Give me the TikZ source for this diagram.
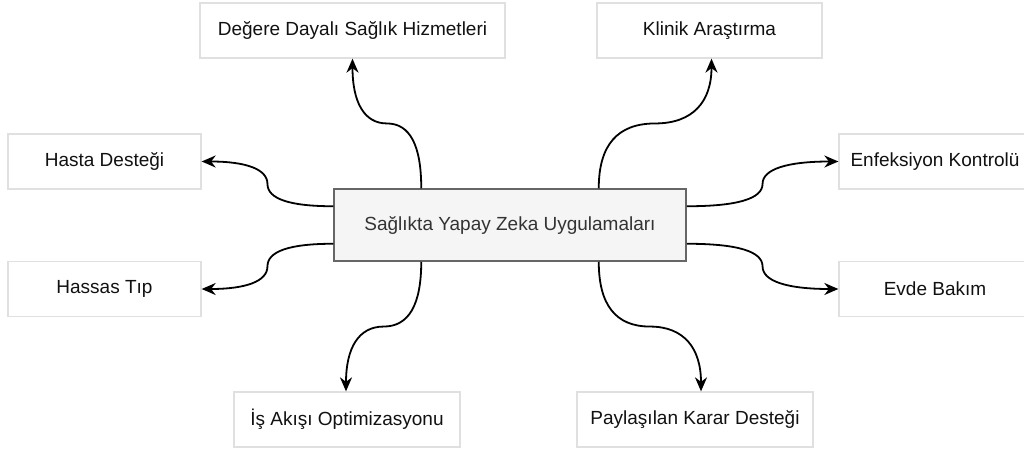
\documentclass[tikz,border=0pt]{standalone}
\usepackage{fontspec}
\setmainfont{Liberation Sans}
\usetikzlibrary{arrows.meta,calc}
\definecolor{outerborder}{HTML}{E0E0E0}
\definecolor{centerfill}{HTML}{F5F5F5}
\definecolor{centerborder}{HTML}{666666}
\definecolor{centertext}{HTML}{333333}
\definecolor{outertext}{HTML}{111111}
% S-shaped connector made of two quadratic pieces (start, waypoint1, waypoint2, end)
\newcommand\sconn[4]{%
  \coordinate (mm) at ($(#2)!0.5!(#3)$);
  \draw[link] (#1) .. controls ($(#1)!0.6667!(#2)$) and ($(mm)!0.6667!(#2)$) .. (mm)
    .. controls ($(mm)!0.6667!(#3)$) and ($(#4)!0.6667!(#3)$) .. (#4);}
\begin{document}
\begin{tikzpicture}[x=1pt,y=-1pt,
  leafbox/.style={draw=outerborder,line width=1.3pt,fill=white,minimum height=55pt,inner sep=0pt,
    font=\fontsize{19}{23}\selectfont,text=outertext},
  hubbox/.style={draw=centerborder,line width=1.5pt,fill=centerfill,minimum width=352pt,minimum height=72pt,
    inner sep=0pt,font=\fontsize{19}{23}\selectfont,text=centertext},
  link/.style={draw=black,line width=1.8pt,-{Stealth[length=14pt,width=12pt,inset=4.5pt]}}]
\useasboundingbox (0,0) rectangle (1024,450);
\node[hubbox] (c) at (510,225) {Sağlıkta Yapay Zeka Uygulamaları};
\node[leafbox,minimum width=305pt] (deg) at (352.5,30.5) {Değere Dayalı Sağlık Hizmetleri};
\node[leafbox,minimum width=225pt] (kli) at (709.5,30.5) {Klinik Araştırma};
\node[leafbox,minimum width=193pt] (has) at (104.5,161.5) {Hasta Desteği};
\node[leafbox,minimum width=192pt] (enf) at (935,161.5) {Enfeksiyon Kontrolü};
\node[leafbox,minimum width=193pt] (hss) at (104.5,289) {Hassas Tıp};
\node[leafbox,minimum width=192pt] (evd) at (935,289) {Evde Bakım};
\node[leafbox,minimum width=226pt] (isa) at (347,419.5) {İş Akışı Optimizasyonu};
\node[leafbox,minimum width=236pt] (pay) at (695,419.5) {Paylaşılan Karar Desteği};
% start points on hub
\coordinate (tl) at ([xshift=88pt]c.north west);
\coordinate (tr) at ([xshift=-88pt]c.north east);
\coordinate (bl) at ([xshift=88pt]c.south west);
\coordinate (br) at ([xshift=-88pt]c.south east);
\coordinate (lt) at ([yshift=-18pt]c.north west);
\coordinate (lb) at ([yshift=18pt]c.south west);
\coordinate (rt) at ([yshift=-18pt]c.north east);
\coordinate (rb) at ([yshift=18pt]c.south east);
% end points
\coordinate (degE) at (deg.south);
\coordinate (kliE) at ([xshift=2pt]kli.south);
\coordinate (hasE) at (has.east);
\coordinate (enfE) at (enf.west);
\coordinate (hssE) at (hss.east);
\coordinate (evdE) at (evd.west);
\coordinate (isaE) at ([xshift=-1pt]isa.north);
\coordinate (payE) at ([xshift=6pt]pay.north);
% midpoints
\coordinate (m1) at ($(tl)!0.5!(degE)$);
\coordinate (m2) at ($(tr)!0.5!(kliE)$);
\coordinate (m3) at ($(lt)!0.5!(hasE)$);
\coordinate (m4) at ($(rt)!0.5!(enfE)$);
\coordinate (m5) at ($(lb)!0.5!(hssE)$);
\coordinate (m6) at ($(rb)!0.5!(evdE)$);
\coordinate (m7) at ($(bl)!0.5!(isaE)$);
\coordinate (m8) at ($(br)!0.5!(payE)$);
% waypoints of the orthogonal routes
\coordinate (a1) at (tl |- m1); \coordinate (b1) at (degE |- m1);
\coordinate (a2) at (tr |- m2); \coordinate (b2) at (kliE |- m2);
\coordinate (a7) at (bl |- m7); \coordinate (b7) at (isaE |- m7);
\coordinate (a8) at (br |- m8); \coordinate (b8) at (payE |- m8);
\coordinate (a3) at (m3 |- lt); \coordinate (b3) at (m3 |- hasE);
\coordinate (a4) at (m4 |- rt); \coordinate (b4) at (m4 |- enfE);
\coordinate (a5) at (m5 |- lb); \coordinate (b5) at (m5 |- hssE);
\coordinate (a6) at (m6 |- rb); \coordinate (b6) at (m6 |- evdE);
\sconn{tl}{a1}{b1}{degE}
\sconn{tr}{a2}{b2}{kliE}
\sconn{bl}{a7}{b7}{isaE}
\sconn{br}{a8}{b8}{payE}
\sconn{lt}{a3}{b3}{hasE}
\sconn{rt}{a4}{b4}{enfE}
\sconn{lb}{a5}{b5}{hssE}
\sconn{rb}{a6}{b6}{evdE}
\end{tikzpicture}
\end{document}
